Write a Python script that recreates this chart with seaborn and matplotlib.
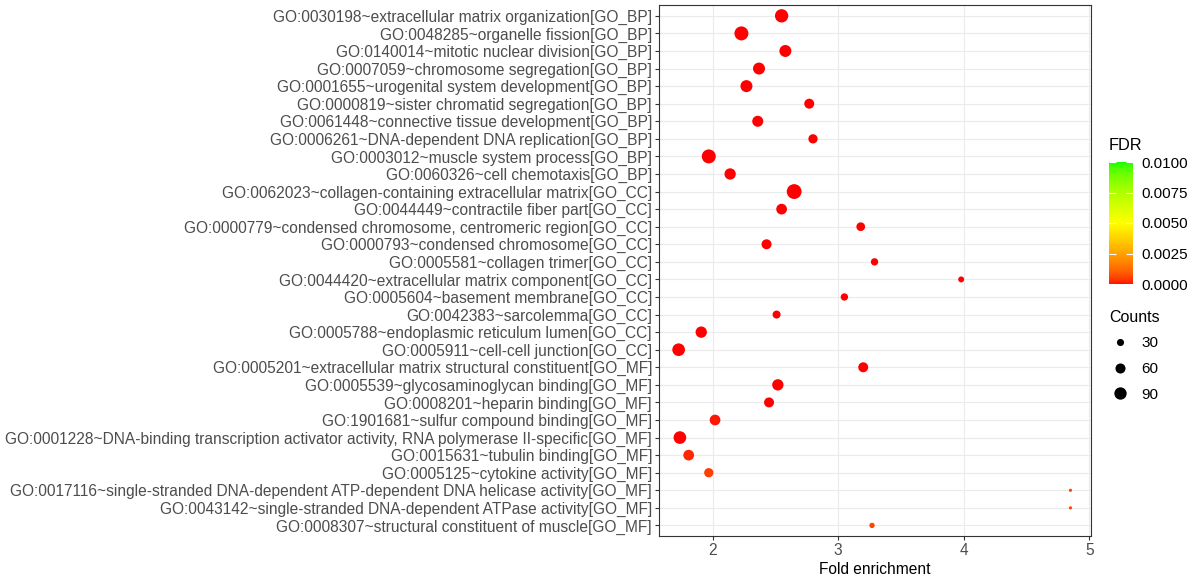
import numpy as np
import pandas as pd
import matplotlib
matplotlib.use("Agg")
import matplotlib.pyplot as plt
import seaborn as sns
from matplotlib.colors import ListedColormap, Normalize
from matplotlib.cm import ScalarMappable
from matplotlib.lines import Line2D

terms = [
    "GO:0030198~extracellular matrix organization[GO_BP]",
    "GO:0048285~organelle fission[GO_BP]",
    "GO:0140014~mitotic nuclear division[GO_BP]",
    "GO:0007059~chromosome segregation[GO_BP]",
    "GO:0001655~urogenital system development[GO_BP]",
    "GO:0000819~sister chromatid segregation[GO_BP]",
    "GO:0061448~connective tissue development[GO_BP]",
    "GO:0006261~DNA-dependent DNA replication[GO_BP]",
    "GO:0003012~muscle system process[GO_BP]",
    "GO:0060326~cell chemotaxis[GO_BP]",
    "GO:0062023~collagen-containing extracellular matrix[GO_CC]",
    "GO:0044449~contractile fiber part[GO_CC]",
    "GO:0000779~condensed chromosome, centromeric region[GO_CC]",
    "GO:0000793~condensed chromosome[GO_CC]",
    "GO:0005581~collagen trimer[GO_CC]",
    "GO:0044420~extracellular matrix component[GO_CC]",
    "GO:0005604~basement membrane[GO_CC]",
    "GO:0042383~sarcolemma[GO_CC]",
    "GO:0005788~endoplasmic reticulum lumen[GO_CC]",
    "GO:0005911~cell-cell junction[GO_CC]",
    "GO:0005201~extracellular matrix structural constituent[GO_MF]",
    "GO:0005539~glycosaminoglycan binding[GO_MF]",
    "GO:0008201~heparin binding[GO_MF]",
    "GO:1901681~sulfur compound binding[GO_MF]",
    "GO:0001228~DNA-binding transcription activator activity, RNA polymerase II-specific[GO_MF]",
    "GO:0015631~tubulin binding[GO_MF]",
    "GO:0005125~cytokine activity[GO_MF]",
    "GO:0017116~single-stranded DNA-dependent ATP-dependent DNA helicase activity[GO_MF]",
    "GO:0043142~single-stranded DNA-dependent ATPase activity[GO_MF]",
    "GO:0008307~structural constituent of muscle[GO_MF]",
]
fold_enrichment = [2.55, 2.23, 2.58, 2.37, 2.27, 2.77, 2.36, 2.80, 1.97, 2.14,
                   2.65, 2.55, 3.18, 2.43, 3.29, 3.98, 3.05, 2.51, 1.91, 1.73,
                   3.20, 2.52, 2.45, 2.02, 1.74, 1.81, 1.97, 4.85, 4.85, 3.27]
counts = [105, 116, 85, 85, 85, 59, 72, 51, 116, 76,
          130, 68, 45, 59, 32, 21, 32, 38, 76, 95,
          59, 76, 59, 68, 95, 68, 51, 6, 6, 17]
fdr = [1e-8, 1e-9, 1e-8, 1e-7, 1e-7, 1e-6, 1e-6, 1e-6, 1e-7, 1e-5,
       1e-12, 1e-6, 1e-5, 1e-5, 1e-5, 1e-5, 1e-5, 1e-5, 1e-5, 1e-5,
       1e-6, 1e-5, 1e-5, 1e-4, 1e-5, 2e-4, 5e-4, 5.5e-4, 5.5e-4, 5.5e-4]
fdr_ticks = [0.0, 0.0025, 0.005, 0.0075, 0.01]
count_breaks = [30, 60, 90]

df = pd.DataFrame({"Term": terms, "Fold enrichment": fold_enrichment,
                   "Counts": counts, "FDR": fdr})

# --- ggplot-like Lab colour ramp red -> yellow -> green ---
def srgb_to_lab(c):
    c = np.asarray(c, float)
    lin = np.where(c <= 0.04045, c / 12.92, ((c + 0.055) / 1.055) ** 2.4)
    M = np.array([[0.4124, 0.3576, 0.1805], [0.2126, 0.7152, 0.0722], [0.0193, 0.1192, 0.9505]])
    xyz = M @ lin / np.array([0.95047, 1.0, 1.08883])
    f = np.where(xyz > 0.008856, np.cbrt(xyz), 7.787 * xyz + 16 / 116)
    return np.array([116 * f[1] - 16, 500 * (f[0] - f[1]), 200 * (f[1] - f[2])])

def lab_to_srgb(lab):
    L, a, b = lab
    fy = (L + 16) / 116
    fx = fy + a / 500
    fz = fy - b / 200
    f = np.array([fx, fy, fz])
    xyz = np.where(f ** 3 > 0.008856, f ** 3, (f - 16 / 116) / 7.787) * np.array([0.95047, 1.0, 1.08883])
    Minv = np.array([[3.2406, -1.5372, -0.4986], [-0.9689, 1.8758, 0.0415], [0.0557, -0.2040, 1.0570]])
    lin = Minv @ xyz
    lin = np.clip(lin, 0, 1)
    c = np.where(lin <= 0.0031308, 12.92 * lin, 1.055 * lin ** (1 / 2.4) - 0.055)
    return np.clip(c, 0, 1)

anchors = [srgb_to_lab([1, 0, 0]), srgb_to_lab([1, 1, 0]), srgb_to_lab([0, 1, 0])]
cols = []
for t in np.linspace(0, 1, 256):
    if t <= 0.5:
        u = t / 0.5
        lab = anchors[0] * (1 - u) + anchors[1] * u
    else:
        u = (t - 0.5) / 0.5
        lab = anchors[1] * (1 - u) + anchors[2] * u
    cols.append(lab_to_srgb(lab))
cmap = ListedColormap(cols)
norm = Normalize(0, 0.01)

# --- figure ---
plt.rcParams["font.family"] = ["Liberation Sans", "DejaVu Sans"]
fig = plt.figure(figsize=(11.95, 5.81), dpi=100)
ax = fig.add_axes([0.5515, 0.0775, 0.3615, 0.9134])

k_area = 0.876  # pt^2 per count (area proportional to counts)
sns.scatterplot(data=df, x="Fold enrichment", y="Term", hue="FDR", palette=cmap,
                hue_norm=norm, size="Counts", sizes=(0, k_area * 140), size_norm=(0, 140),
                linewidth=0, legend=False, ax=ax, zorder=3)

ax.set_ylim(len(terms) - 0.4, -0.6)
ax.set_xlim(1.574, 5.014)
ax.set_xticks([2, 3, 4, 5])
ax.set_xticklabels(["2", "3", "4", "5"])
ax.set_ylabel("")
ax.set_xlabel("Fold enrichment", fontsize=11.2, color="black", labelpad=3)
ax.grid(True, color="#EBEBEB", linewidth=0.8)
ax.set_axisbelow(True)
for s in ax.spines.values():
    s.set_color("#333333")
    s.set_linewidth(0.8)
ax.tick_params(axis="both", length=3, width=0.8, color="#333333",
               labelcolor="#4D4D4D", labelsize=11.2, pad=2)
for lab in ax.get_yticklabels():
    lab.set_va("center_baseline")

# colour bar legend
cax = fig.add_axes([1109 / 1195, 1 - 284 / 581, 24 / 1195, 122 / 581])
cb = fig.colorbar(ScalarMappable(norm=norm, cmap=cmap), cax=cax)
cb.outline.set_visible(False)
cb.set_ticks(fdr_ticks)
cb.set_ticklabels([f"{v:.4f}" for v in fdr_ticks])
cax.tick_params(axis="y", direction="in", length=5, width=0.8, color="white",
                left=True, right=True, labelsize=11, labelcolor="black", pad=6)
fig.text(1109 / 1195, 1 - 145 / 581, "FDR", fontsize=11.8, ha="left", va="center")

# size legend
fig.text(1109 / 1195, 1 - 318 / 581, "Counts", fontsize=11.5, ha="left", va="center")
handles = [Line2D([], [], linestyle="none", marker="o", color="black",
                  markersize=np.sqrt(k_area * c), markeredgewidth=0) for c in count_breaks]
leg = fig.legend(handles, [str(c) for c in count_breaks], loc="upper left",
                 bbox_to_anchor=(1112 / 1195, 1 - 336 / 581), frameon=False,
                 fontsize=11, handlelength=1.0, handletextpad=0.9, labelspacing=0.78,
                 borderaxespad=0, borderpad=0)

fig.savefig("out.png", dpi=100)
